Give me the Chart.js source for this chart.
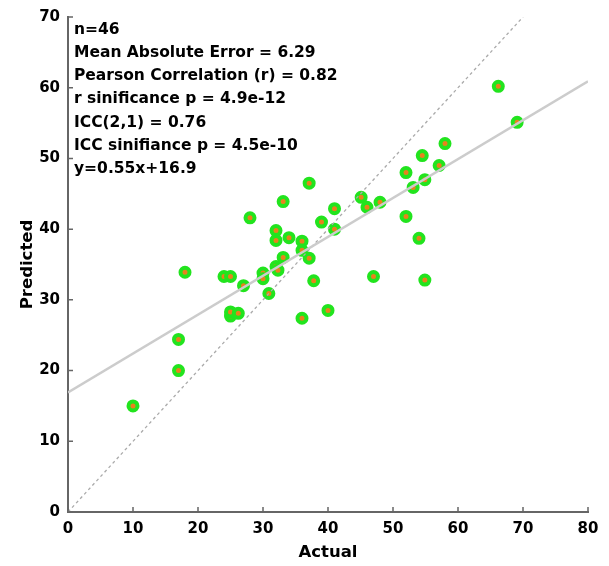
<!DOCTYPE html>
<html>
<head>
<meta charset="utf-8">
<script src="https://cdn.jsdelivr.net/npm/chart.js@4.4.1/dist/chart.umd.min.js"></script>
<style>
  html, body { margin: 0; padding: 0; background: #fff; }
  #wrap { width: 609px; height: 566px; }
</style>
</head>
<body>
<div id="wrap"><canvas id="chart"></canvas></div>
<script>
// values
const actual    = [10, 17, 17, 18, 24, 25, 25, 25, 26.2, 27, 28, 30, 30, 30.9, 32, 32, 32, 32.3, 33.1, 33.1, 34, 36, 36, 36, 37.1, 37.1, 37.8, 39, 40, 41, 41, 45.1, 46, 47, 48, 52, 52, 53.1, 54, 54.5, 54.9, 54.9, 57.1, 58, 66.2, 69.1];
const predicted = [15, 20, 24.4, 33.9, 33.3, 33.3, 27.7, 28.3, 28.1, 32, 41.6, 33.8, 33.0, 30.9, 39.8, 38.4, 34.7, 34.2, 36, 43.9, 38.8, 38.3, 37, 27.4, 35.9, 46.5, 32.7, 41, 28.5, 42.9, 40, 44.5, 43.1, 33.3, 43.8, 48, 41.8, 45.9, 38.7, 50.4, 47, 32.8, 49, 52.1, 60.2, 55.1];

const fitSlope = 0.55;
const fitIntercept = 16.9;
const xRange = [0, 80];
const yRange = [0, 70];
const xTicks = [0, 10, 20, 30, 40, 50, 60, 70, 80];
const yTicks = [0, 10, 20, 30, 40, 50, 60, 70];

const statsLines = [
    'n=46',
    'Mean Absolute Error = 6.29',
    'Pearson Correlation (r) = 0.82',
    'r sinificance p = 4.9e-12',
    'ICC(2,1) = 0.76',
    'ICC sinifiance p = 4.5e-10',
    'y=0.55x+16.9'
];

const FONT = '"DejaVu Sans", sans-serif';
const AXIS_COLOR = '#666666';

const points = actual.map((a, i) => ({ x: a, y: predicted[i] }));
const fitLine = xRange.map(x => ({ x: x, y: fitSlope * x + fitIntercept }));
const identityLine = [{ x: 0, y: 0 }, { x: yRange[1], y: yRange[1] }];

// small ticks pointing into the plot, like the original
const innerTicks = {
    id: 'innerTicks',
    afterDraw(chart) {
        const ctx = chart.ctx;
        const area = chart.chartArea;
        const xs = chart.scales.x, ys = chart.scales.y;
        ctx.save();
        ctx.strokeStyle = AXIS_COLOR;
        ctx.lineWidth = 1.5;
        ctx.beginPath();
        xTicks.forEach(t => {
            const px = xs.getPixelForValue(t);
            ctx.moveTo(px, area.bottom);
            ctx.lineTo(px, area.bottom - 5);
        });
        yTicks.forEach(t => {
            const py = ys.getPixelForValue(t);
            ctx.moveTo(area.left, py);
            ctx.lineTo(area.left + 5, py);
        });
        ctx.stroke();
        ctx.restore();
    }
};

const statsBox = {
    id: 'statsBox',
    afterDraw(chart) {
        const ctx = chart.ctx;
        const area = chart.chartArea;
        ctx.save();
        ctx.font = 'bold 15.5px ' + FONT;
        ctx.fillStyle = '#000';
        ctx.textBaseline = 'middle';
        ctx.textAlign = 'left';
        statsLines.forEach((line, i) => {
            ctx.fillText(line, area.left + 6, area.top + 12.5 + i * 23.3);
        });
        ctx.restore();
    }
};

const ctx = document.querySelector('#chart').getContext('2d');
const chart = new Chart(ctx, {
    type: 'scatter',
    data: {
        datasets: [
            {
                type: 'line',
                data: fitLine,
                borderColor: '#cccccc',
                borderWidth: 2.5,
                pointRadius: 0,
                fill: false
            },
            {
                type: 'line',
                data: identityLine,
                borderColor: '#aaaaaa',
                borderWidth: 1.3,
                borderDash: [3, 3],
                pointRadius: 0,
                fill: false
            },
            {
                data: points,
                backgroundColor: '#e8821c',
                borderColor: '#22e41e',
                borderWidth: 4,
                pointRadius: 4.5
            }
        ]
    },
    options: {
        responsive: true,
        maintainAspectRatio: false,
        animation: false,
        devicePixelRatio: 1,
        layout: { padding: { top: 16, right: 21, left: 0, bottom: 0 } },
        plugins: {
            legend: { display: false },
            tooltip: { enabled: false }
        },
        scales: {
            x: {
                type: 'linear',
                min: xRange[0],
                max: xRange[1],
                afterFit: s => { s.height = 54; },
                afterBuildTicks: s => { s.ticks = xTicks.map(v => ({ value: v })); },
                ticks: { color: '#000', padding: 8, font: { family: FONT, size: 15, weight: 'bold' } },
                grid: { drawOnChartArea: false, drawTicks: false },
                border: { display: true, color: AXIS_COLOR, width: 2 },
                title: {
                    display: true, text: 'Actual', color: '#000',
                    font: { family: FONT, size: 16.5, weight: 'bold' },
                    padding: { top: 0, bottom: 3 }
                }
            },
            y: {
                type: 'linear',
                min: yRange[0],
                max: yRange[1],
                afterFit: s => { s.width = 68; },
                afterBuildTicks: s => { s.ticks = yTicks.map(v => ({ value: v })); },
                ticks: { color: '#000', padding: 8, font: { family: FONT, size: 15, weight: 'bold' } },
                grid: { drawOnChartArea: false, drawTicks: false },
                border: { display: true, color: AXIS_COLOR, width: 2 },
                title: {
                    display: true, text: 'Predicted', color: '#000',
                    font: { family: FONT, size: 16.5, weight: 'bold' },
                    padding: { top: 18, bottom: 0 }
                }
            }
        }
    },
    plugins: [innerTicks, statsBox]
});
</script>
</body>
</html>
